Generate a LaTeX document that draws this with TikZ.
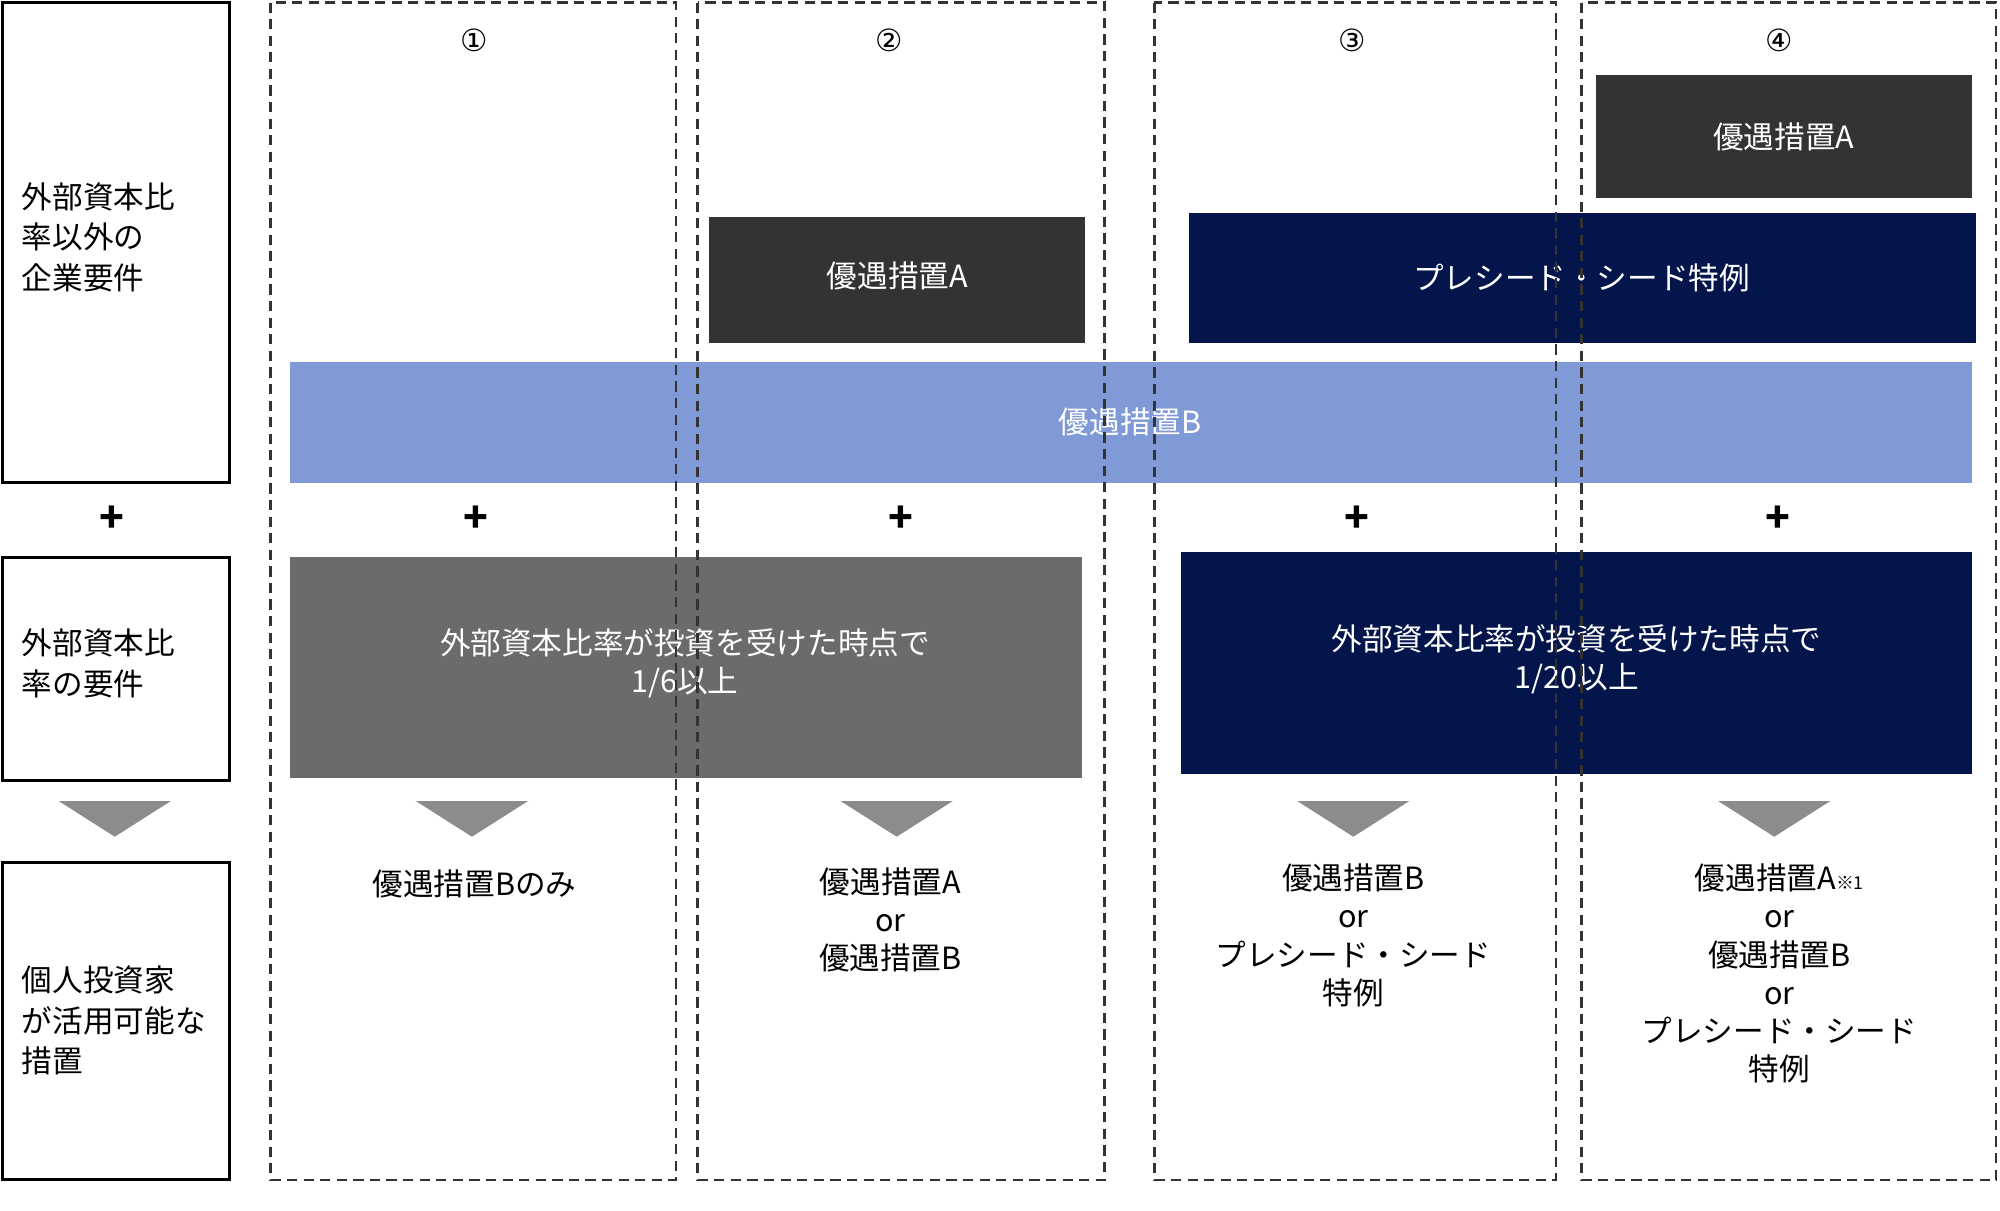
\documentclass[tikz,border=0pt]{standalone}
\usepackage{fontspec}
\setmainfont{Noto Sans CJK JP}
\begin{document}
\begin{tikzpicture}[x=1pt,y=-1pt,
 solidbox/.style={draw=black,line width=2.5pt},
 colbox/.style={draw=black!80,line width=2pt,dash pattern=on 8pt off 5pt},
 fillbox/.style={inner sep=0pt,text=white,font=\fontsize{24}{30}\selectfont,align=center},
 lbl/.style={font=\fontsize{24}{30}\selectfont,align=center,inner sep=0pt},
 lefttxt/.style={font=\fontsize{24}{32}\selectfont,align=left,anchor=west,inner sep=0pt},
 tri/.style={fill=black!45,draw=none},
 plus/.style={font=\fontsize{32}{32}\selectfont\bfseries,inner sep=0pt}]
\useasboundingbox (0,0) rectangle (1568,949);
% left boxes
\draw[solidbox] (2,2) rectangle (180,378);
\draw[solidbox] (2,437) rectangle (180,612);
\draw[solidbox] (2,676) rectangle (180,925);
\node[lefttxt] (l1) at (17,186) {外部資本比\\率以外の\\企業要件};
\node[lefttxt] (l2) at (17,520) {外部資本比\\率の要件};
\node[lefttxt] (l3) at (17,800) {個人投資家\\が活用可能な\\措置};
\node[plus] (p0) at (88,407) {+};
\fill[tri] (46,628) -- (134,628) -- (90,656) -- cycle;
% filled boxes
\fill[black!80] (556,170) rectangle (851,269);
\node[fillbox] (a1) at (703.5,216) {優遇措置A};
\fill[black!80] (1251,59) rectangle (1546,155);
\node[fillbox] (a2) at (1398.5,107) {優遇措置A};
\fill[fill={rgb,255:red,3;green,21;blue,74}] (932,167) rectangle (1549,269);
\node[fillbox] (ps) at (1240,218) {プレシード・シード特例};
\fill[fill={rgb,255:red,127;green,154;blue,214}] (227,284) rectangle (1546,379);
\node[fillbox] (b) at (886,331) {優遇措置B};
\fill[black!58] (227,437) rectangle (848,610);
\node[fillbox] (g) at (537,520) {外部資本比率が投資を受けた時点で\\1/6以上};
\fill[fill={rgb,255:red,3;green,21;blue,74}] (926,433) rectangle (1546,607);
\node[fillbox] (n) at (1236,517) {外部資本比率が投資を受けた時点で\\1/20以上};
% dashed columns
\draw[colbox] (212,2) rectangle (530,925);
\draw[colbox] (547,2) rectangle (866,925);
\draw[colbox] (905,2) rectangle (1220,925);
\draw[colbox] (1240,2) rectangle (1565,925);
\node[lbl] (c1) at (372,32) {\fontspec{DejaVu Sans}①};
\node[lbl] (c2) at (697,32) {\fontspec{DejaVu Sans}②};
\node[lbl] (c3) at (1060,32) {\fontspec{DejaVu Sans}③};
\node[lbl] (c4) at (1395,32) {\fontspec{DejaVu Sans}④};
\foreach \x/\n in {373/p1,706/p2,1064/p3,1394/p4}{\node[plus] (\n) at (\x,407) {+};}
\foreach \x in {370,703,1061,1391}{\fill[tri] (\x-44,628) -- (\x+44,628) -- (\x,656) -- cycle;}
\node[lbl] (r1) at (372,693) {優遇措置Bのみ};
\node[lbl,anchor=north] (r2) at (698,680) {優遇措置A\\or\\優遇措置B};
\node[lbl,anchor=north] (r3) at (1061,677) {優遇措置B\\or\\プレシード・シード\\特例};
\node[lbl,anchor=north] (r4) at (1395,677) {優遇措置A{\fontsize{14}{14}\selectfont ※1}\\or\\優遇措置B\\or\\プレシード・シード\\特例};
\end{tikzpicture}
\end{document}
